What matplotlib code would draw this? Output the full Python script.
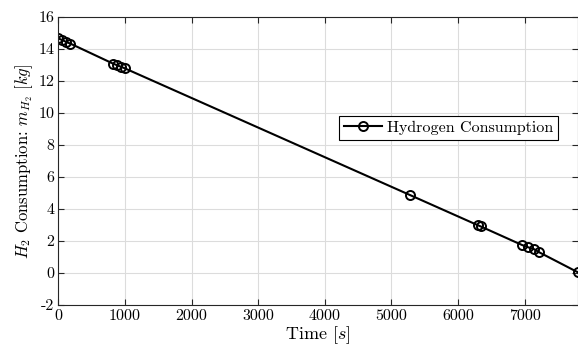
import matplotlib
matplotlib.use("Agg")
import matplotlib.pyplot as plt

# === Dados ===
tempo = [0, 60, 120, 180, 820, 880, 940, 1000, 5280, 6300, 6340,
         6960, 7050, 7140, 7220, 7800]
consumo_h2 = [14.65, 14.55, 14.43, 14.33, 13.08, 12.98, 12.88, 12.78,
              4.86, 2.97, 2.90, 1.74, 1.60, 1.48, 1.28, 0.03]

xticks = [0, 1000, 2000, 3000, 4000, 5000, 6000, 7000]
yticks = [-2, 0, 2, 4, 6, 8, 10, 12, 14, 16]

plt.rcParams['font.family'] = 'serif'
plt.rcParams['font.serif'] = ['cmr10', 'DejaVu Serif']
plt.rcParams['mathtext.fontset'] = 'cm'
plt.rcParams['axes.unicode_minus'] = False
plt.rcParams['axes.formatter.use_mathtext'] = False

fig = plt.figure(figsize=(5.78, 3.52), dpi=100)
ax = fig.add_axes([0.101, 0.134, 0.899, 0.818])

ax.plot(tempo, consumo_h2, color='black', lw=1.5, marker='o',
        markersize=6.5, markerfacecolor='none', markeredgewidth=1.4,
        label='Hydrogen Consumption')

ax.set_xlim(0, 7800)
ax.set_ylim(-2, 16)
ax.set_xticks(xticks)
ax.set_yticks(yticks)
ax.set_xticklabels([str(v) for v in xticks])
ax.set_yticklabels([str(v) for v in yticks])
ax.grid(True, color='#dcdcdc', lw=0.8)
ax.set_axisbelow(True)

for s in ax.spines.values():
    s.set_color('#262626')
    s.set_linewidth(0.8)
ax.tick_params(direction='in', top=True, right=True, length=4,
               width=0.8, color='#262626', labelsize=11.5, pad=3)

ax.set_xlabel('Time $[s]$', fontsize=13, labelpad=1)
ax.set_ylabel('$H_2$ Consumption: $m_{H_2}$ $[kg]$', fontsize=12, labelpad=2)

leg = ax.legend(loc='center right', bbox_to_anchor=(0.977, 0.615),
                fancybox=False, edgecolor='black', framealpha=1,
                fontsize=11.5, handlelength=2.4, borderpad=0.3,
                handletextpad=0.3)
leg.get_frame().set_linewidth(0.8)

fig.savefig('out.png', dpi=100)
